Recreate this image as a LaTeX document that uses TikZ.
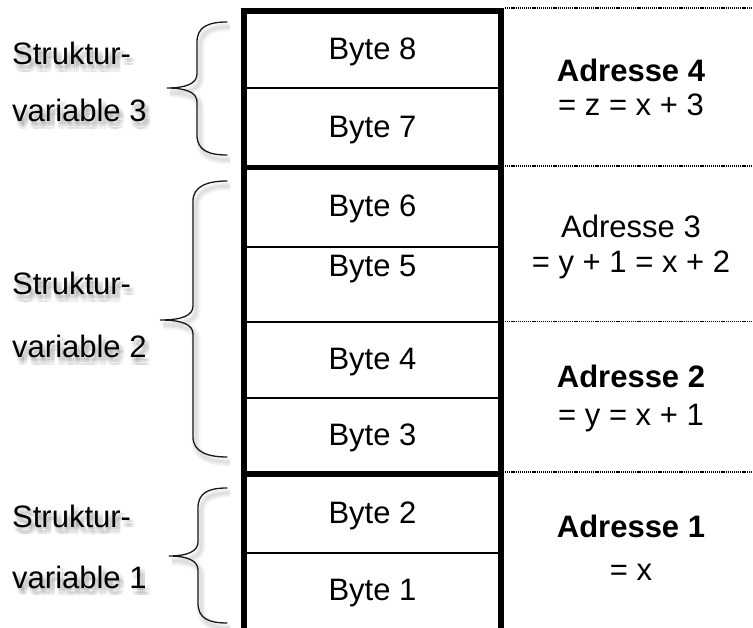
\documentclass[tikz,border=0pt]{standalone}
\usepackage{fontspec}
\setmainfont{Liberation Sans}

% left-hand label with a soft drop shadow (x, y, name, text)
\newcommand\shadowlabel[4]{%
  \foreach \i in {-1,0,1}{\foreach \j in {-1,0,1}{%
    \node[lbl, text=black, text opacity=0.05] at (#1+3+\i*2.2, #2+5+\j*2.2) {#4};}}%
  \node[lbl] (#3) at (#1,#2) {#4};}

% curly brace: top y, middle y, bottom y, x of the stem, x of the point
\newcommand\bracepath[5]{%
  (227,#1) .. controls (208,#1) and (#4,#1+5) .. (#4,#1+20)
  -- (#4,#2-14) .. controls (#4,#2-4) and (#4-12,#2) .. (#5,#2)
  .. controls (#4-12,#2) and (#4,#2+4) .. (#4,#2+14)
  -- (#4,#3-20) .. controls (#4,#3-5) and (208,#3) .. (227,#3)}
% brace with a soft drop shadow
\newcommand\membrace[5]{%
  \foreach \w/\o in {9/0.035,6/0.04,3/0.05}{%
    \draw[line width=\w pt, black, draw opacity=\o, shift={(3,5)}] \bracepath{#1}{#2}{#3}{#4}{#5};}%
  \draw[bracestyle] \bracepath{#1}{#2}{#3}{#4}{#5};}

\begin{document}
\begin{tikzpicture}[x=1pt,y=-1pt,
  every node/.style={inner sep=0pt, font=\fontsize{31}{37}\selectfont},
  cell/.style={anchor=base},
  addr/.style={anchor=base},
  lbl/.style={anchor=base west},
  wall/.style={line width=6pt, line join=miter},
  sep/.style={line width=5.5pt},
  thinsep/.style={line width=1.7pt},
  guide/.style={line width=1.1pt, dash pattern=on 1.2pt off 0.9pt, black},
  bracestyle/.style={line width=1.3pt, black!90, line cap=round},
]
\useasboundingbox (0,0) rectangle (753,628);

% memory column
\coordinate (tl) at (244,11);
\coordinate (tr) at (501,11);
\coordinate (bl) at (244,634);
\coordinate (br) at (501,634);
\draw[wall] (bl) -- (tl) -- (tr) -- (br);

% boundaries between structure variables
\draw[sep] (244,167.5) -- (501,167.5);
\draw[sep] (244,474) -- (501,474);
% boundaries between single bytes
\foreach \y in {88.3,246.7,321.7,398.3,552.7}
  \draw[thinsep] (244,\y) -- (501,\y);

% address boundaries
\foreach \y in {8,166,321.5,472}
  \draw[guide] (505,\y) -- (753,\y);

% bytes
\node[cell] (b8) at (372.5,60) {Byte 8};
\node[cell] (b7) at (372.5,138) {Byte 7};
\node[cell] (b6) at (372.5,217) {Byte 6};
\node[cell] (b5) at (372.5,277) {Byte 5};
\node[cell] (b4) at (372.5,370) {Byte 4};
\node[cell] (b3) at (372.5,446) {Byte 3};
\node[cell] (b2) at (372.5,523) {Byte 2};
\node[cell] (b1) at (372.5,600) {Byte 1};

% addresses
\node[addr] (a4) at (631,82) {\bfseries Adresse 4};
\node[addr] (a4v) at (631,116) {= z = x + 3};
\node[addr] (a3) at (631,238) {Adresse 3};
\node[addr] (a3v) at (631,273) {= y + 1 = x + 2};
\node[addr] (a2) at (631,388) {\bfseries Adresse 2};
\node[addr] (a2v) at (631,426) {= y = x + 1};
\node[addr] (a1) at (631,537) {\bfseries Adresse 1};
\node[addr] (a1v) at (631,580) {= x};

% structure variables
\membrace{22}{88}{155}{197}{167}
\membrace{181}{320}{457}{193}{160}
\membrace{488}{556}{623}{198}{169}
\shadowlabel{12}{65}{s3a}{Struktur-}
\shadowlabel{12}{122}{s3b}{variable 3}
\shadowlabel{12}{295}{s2a}{Struktur-}
\shadowlabel{12}{358}{s2b}{variable 2}
\shadowlabel{12}{527}{s1a}{Struktur-}
\shadowlabel{12}{588}{s1b}{variable 1}
\end{tikzpicture}
\end{document}
